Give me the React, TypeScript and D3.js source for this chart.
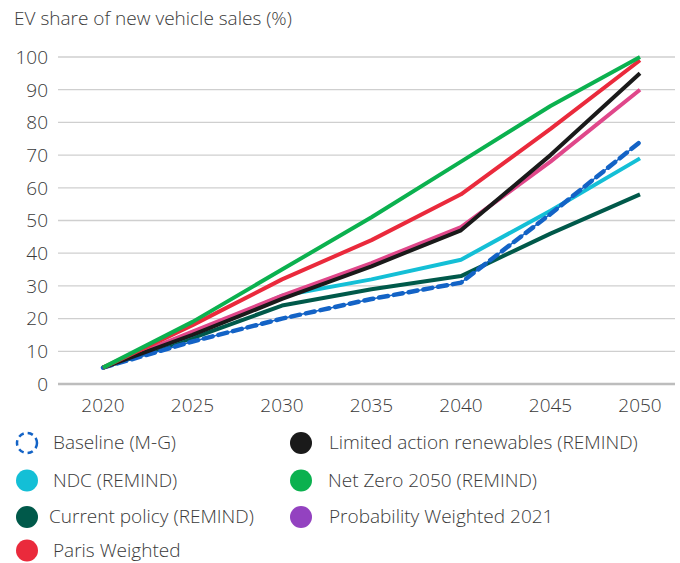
import React from 'react';
import * as d3 from 'd3';

const years = [2020, 2025, 2030, 2035, 2040, 2045, 2050];
const yTicks = [0, 10, 20, 30, 40, 50, 60, 70, 80, 90, 100];

const baseline = [5, 13, 20, 26, 31, 52, 74];
const ndc = [5, 15, 27, 32, 38, 53, 69];
const currentPolicy = [5, 14, 24, 29, 33, 46, 58];
const probWeighted = [5, 16, 27, 37, 48, 68, 90];
const limitedAction = [5, 15, 26, 36, 47, 70, 95];
const parisWeighted = [5, 18, 32, 44, 58, 78, 99];
const netZero = [5, 19, 35, 51, 68, 85, 100];

// draw order (bottom first)
const series = [
  { name: 'Current policy (REMIND)', values: currentPolicy, color: '#00594a' },
  { name: 'NDC (REMIND)', values: ndc, color: '#14bfd6' },
  { name: 'Baseline (M-G)', values: baseline, color: '#1363c6', dashed: true },
  { name: 'Probability Weighted 2021', values: probWeighted, color: '#e0478a' },
  { name: 'Limited action renewables (REMIND)', values: limitedAction, color: '#1a1a1a' },
  { name: 'Paris Weighted', values: parisWeighted, color: '#ea2a3c' },
  { name: 'Net Zero 2050 (REMIND)', values: netZero, color: '#0bb14f' },
];

const legendItems = [
  { name: 'Baseline (M-G)', color: '#1363c6', dashed: true },
  { name: 'Limited action renewables (REMIND)', color: '#1a1a1a' },
  { name: 'NDC (REMIND)', color: '#14bfd6' },
  { name: 'Net Zero 2050 (REMIND)', color: '#0bb14f' },
  { name: 'Current policy (REMIND)', color: '#00594a' },
  { name: 'Probability Weighted 2021', color: '#9342c0' },
  { name: 'Paris Weighted', color: '#ea2a3c' },
];

const legendRows = [443, 480.5, 517, 550.5];

const W = 680;
const H = 563;
const font = '"Open Sans", Lato, sans-serif';
const textColor = '#3a3a3a';
const fs = 19;

export default function App() {
  const x = d3.scaleLinear().domain([2020, 2050]).range([103, 640]);
  const y = d3.scaleLinear().domain([0, 100]).range([384, 57]);

  const line = d3
    .line<number>()
    .x((_, i) => x(years[i]))
    .y((d) => y(d));

  return (
    <svg
      width={W}
      height={H}
      style={{ position: 'absolute', left: 0, top: 0, background: '#fff' }}
      fontFamily={font}
      fontWeight={300}
    >
      <text x={14} y={25} fontSize={fs} fill={textColor}>
        EV share of new vehicle sales (%)
      </text>

      {yTicks.map((t) => (
        <g key={t}>
          <line
            x1={58}
            x2={675}
            y1={y(t)}
            y2={y(t)}
            stroke={t === 0 ? '#bdbdbd' : '#cfcfcf'}
            strokeWidth={t === 0 ? 2.5 : 1.3}
          />
          <text
            x={48}
            y={y(t)}
            dy="0.36em"
            textAnchor="end"
            fontSize={fs}
            fill={textColor}
          >
            {t}
          </text>
        </g>
      ))}

      {years.map((yr) => (
        <text
          key={yr}
          x={x(yr)}
          y={412}
          textAnchor="middle"
          fontSize={fs}
          fill={textColor}
        >
          {yr}
        </text>
      ))}

      {series.map((s) =>
        s.dashed ? (
          <g key={s.name}>
            <path
              d={line(s.values) || ''}
              fill="none"
              stroke={s.color}
              strokeWidth={1.5}
            />
            <path
              d={line(s.values) || ''}
              fill="none"
              stroke={s.color}
              strokeWidth={4.5}
              strokeDasharray="9 6"
              strokeLinecap="round"
            />
          </g>
        ) : (
          <path
            key={s.name}
            d={line(s.values) || ''}
            fill="none"
            stroke={s.color}
            strokeWidth={4}
            strokeLinejoin="round"
          />
        )
      )}

      {legendItems.map((item, i) => {
        const col = i % 2;
        const row = Math.floor(i / 2);
        const cx = col === 0 ? 27 : 301;
        const cy = legendRows[row];
        const tx = col === 0 ? (i === 4 ? 49 : 53) : i === 3 ? 328 : 329;
        return (
          <g key={item.name}>
            {item.dashed ? (
              <circle
                cx={cx}
                cy={cy}
                r={10}
                fill="none"
                stroke={item.color}
                strokeWidth={2.5}
                strokeDasharray="5.5 4"
              />
            ) : (
              <circle cx={cx} cy={cy} r={11} fill={item.color} />
            )}
            <text
              x={tx}
              y={cy}
              dy="0.34em"
              fontSize={fs}
              fill={textColor}
            >
              {item.name}
            </text>
          </g>
        );
      })}
    </svg>
  );
}
